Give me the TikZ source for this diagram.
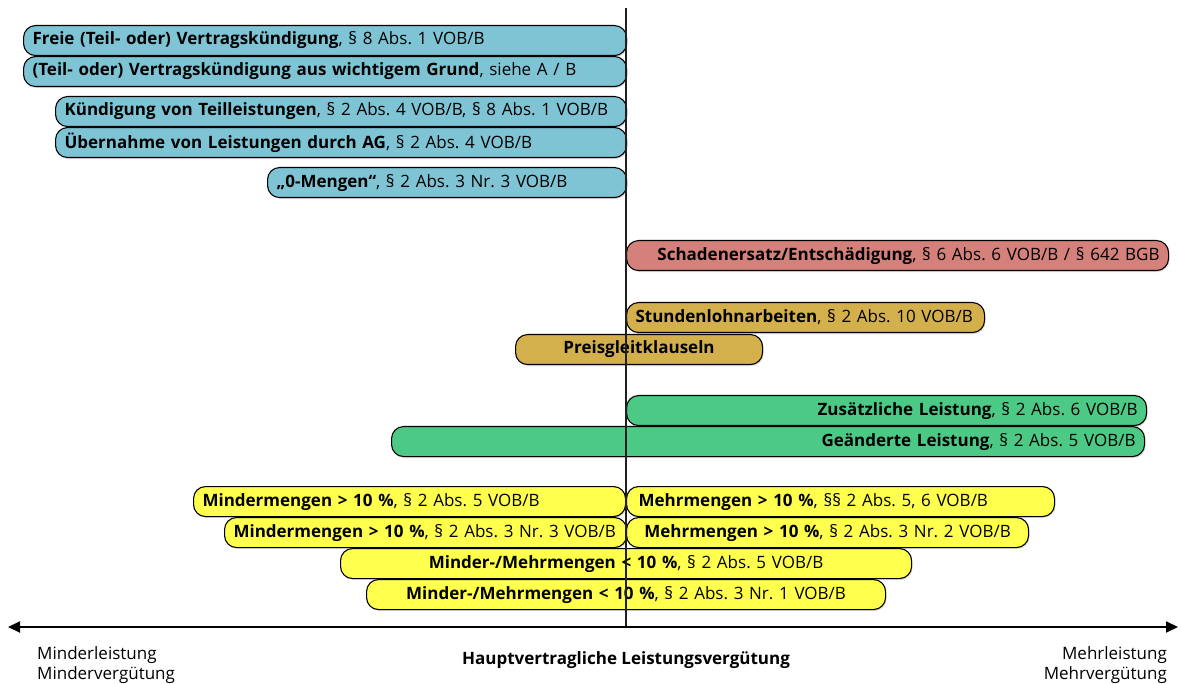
\documentclass[tikz,border=0pt]{standalone}
\usepackage{fontspec}
\setmainfont{Open Sans}
\usetikzlibrary{arrows.meta,shadows}
\definecolor{barblue}{HTML}{7EC4D4}
\definecolor{barred}{HTML}{D4817B}
\definecolor{bargold}{HTML}{D3B04B}
\definecolor{bargreen}{HTML}{4CC985}
\definecolor{baryellow}{HTML}{FFFF4D}
\definecolor{axisgray}{HTML}{202020}
% bold key phrase followed by the regular reference, kept on one line
\newcommand\barlabel[2]{\mbox{\textbf{#1}#2}}
\frenchspacing
\begin{document}
\begin{tikzpicture}[x=1pt,y=-1pt,
  font=\fontsize{17}{20}\selectfont,
  bar/.style={draw=black, line width=1.1pt, rounded corners=12pt,
    minimum height=30pt, inner xsep=9pt, inner ysep=0pt,
    anchor=north west,
    drop shadow={opacity=0.25, shadow xshift=1pt, shadow yshift=-1.5pt}},
  axis/.style={line width=2pt, {Triangle[length=12pt,width=11pt]}-{Triangle[length=12pt,width=11pt]}},
  caption/.style={inner sep=0pt}]
\useasboundingbox (0,0) rectangle (1181,684);

% Kündigungen (blau)
\node[bar, fill=barblue, text width=585pt, align=left] (frei) at (23,25)
  {\barlabel{Freie (Teil- oder) Vertragskündigung}{, § 8 Abs. 1 VOB/B}};
\node[bar, fill=barblue, text width=585pt, align=left] (grund) at (23,56)
  {\barlabel{(Teil- oder) Vertragskündigung aus wichtigem Grund}{, siehe A / B}};
\node[bar, fill=barblue, text width=553pt, align=left] (teil) at (55,96)
  {\barlabel{Kündigung von Teilleistungen}{, § 2 Abs. 4 VOB/B, § 8 Abs. 1 VOB/B}};
\node[bar, fill=barblue, text width=553pt, align=left] (uebern) at (55,127)
  {\barlabel{Übernahme von Leistungen durch AG}{, § 2 Abs. 4 VOB/B}};
\node[bar, fill=barblue, text width=341pt, align=left] (null) at (267,167)
  {\barlabel{„0-Mengen“}{, § 2 Abs. 3 Nr. 3 VOB/B}};

% Schadenersatz (rot)
\node[bar, fill=barred, text width=524pt, align=right] (schaden) at (626,240)
  {\barlabel{Schadenersatz/Entschädigung}{, § 6 Abs. 6 VOB/B / § 642 BGB}};

% Stundenlohn und Preisgleitung (gold)
\node[bar, fill=bargold, text width=340pt, align=left] (stunden) at (626,302)
  {\barlabel{Stundenlohnarbeiten}{, § 2 Abs. 10 VOB/B}};
\node[bar, fill=bargold, text width=229pt, align=center] (preis) at (515,334)
  {\barlabel{Preisgleitklauseln}{}};

% Leistungsänderungen (grün)
\node[bar, fill=bargreen, text width=502pt, align=right] (zusatz) at (626,395)
  {\barlabel{Zusätzliche Leistung}{, § 2 Abs. 6 VOB/B}};
\node[bar, fill=bargreen, text width=735pt, align=right] (geaendert) at (391,426)
  {\barlabel{Geänderte Leistung}{, § 2 Abs. 5 VOB/B}};

% Mengenänderungen (gelb)
\node[bar, fill=baryellow, text width=414pt, align=left] (minderA) at (193,486)
  {\barlabel{Mindermengen > 10 \%}{, § 2 Abs. 5 VOB/B}};
\node[bar, fill=baryellow, text width=410pt, align=left] (mehrA) at (626,486)
  {\hspace*{3pt}\barlabel{Mehrmengen > 10 \%}{, §§ 2 Abs. 5, 6 VOB/B}};
\node[bar, fill=baryellow, text width=384pt, align=left] (minderB) at (224,517)
  {\barlabel{Mindermengen > 10 \%}{, § 2 Abs. 3 Nr. 3 VOB/B}};
\node[bar, fill=baryellow, text width=384pt, align=center] (mehrB) at (626,517)
  {\barlabel{Mehrmengen > 10 \%}{, § 2 Abs. 3 Nr. 2 VOB/B}};
\node[bar, fill=baryellow, text width=553pt, align=center] (mmA) at (340,548)
  {\barlabel{Minder-/Mehrmengen < 10 \%}{, § 2 Abs. 5 VOB/B}};
\node[bar, fill=baryellow, text width=501pt, align=center] (mmB) at (366,579)
  {\barlabel{Minder-/Mehrmengen < 10 \%}{, § 2 Abs. 3 Nr. 1 VOB/B}};

% Achsen
\coordinate (top) at (626,8);
\coordinate (origin) at (626,627);
\coordinate (left) at (8,627);
\coordinate (right) at (1178,627);
\draw[axisgray, line width=1.3pt] (top) -- (origin);
\draw[axis] (left) -- (right);

% Beschriftung
\node[caption, anchor=base west] (minderL) at (37,659) {Minderleistung};
\node[caption, anchor=base west] (minderV) at (37,679) {Mindervergütung};
\node[caption, anchor=base east] (mehrL) at (1167,659) {Mehrleistung};
\node[caption, anchor=base east] (mehrV) at (1167,679) {Mehrvergütung};
\node[caption, anchor=base] (haupt) at (626,664) {\textbf{Hauptvertragliche Leistungsvergütung}};
\end{tikzpicture}
\end{document}
